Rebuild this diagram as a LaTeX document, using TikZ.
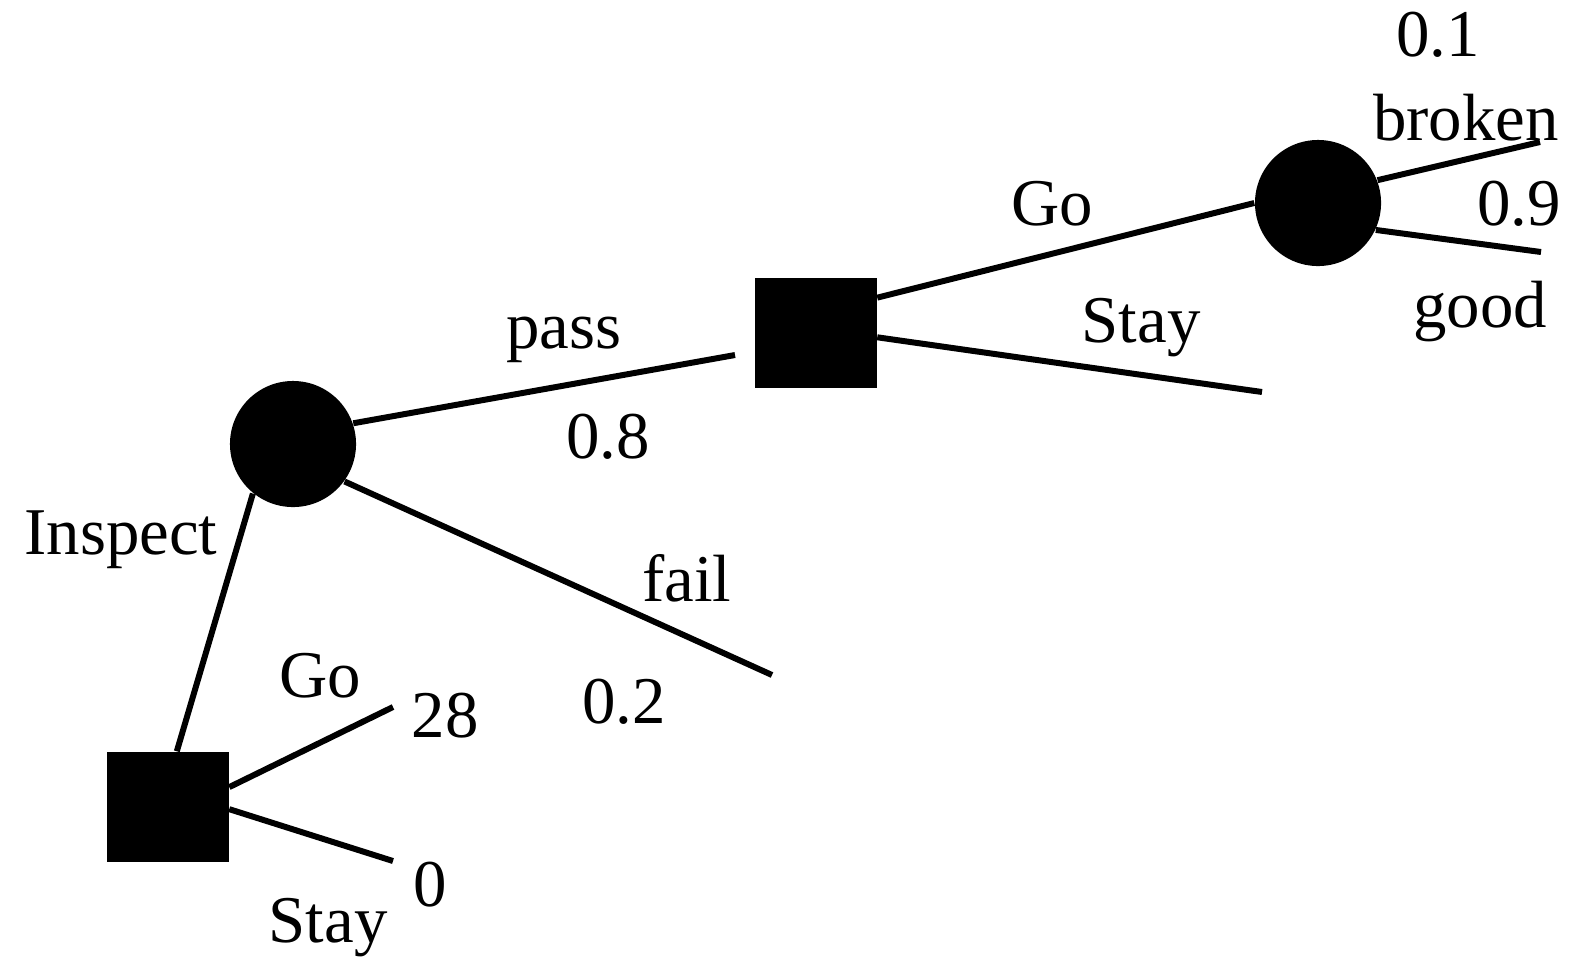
\documentclass[tikz,border=0pt]{standalone}
\usepackage{fontspec}
\setmainfont{Liberation Serif}
\begin{document}
\begin{tikzpicture}[x=0.01cm,y=-0.01cm,
  decision/.style={fill=black,draw=none,minimum width=1.21cm,minimum height=1.10cm,inner sep=0pt},
  chance/.style={circle,fill=black,draw=none,minimum size=1.26cm,inner sep=0pt},
  branch/.style={line width=1.7pt},
  lbl/.style={font=\fontsize{19}{22}\selectfont,inner sep=0pt}]
\useasboundingbox (0,0) rectangle (1577,960);

% nodes of the tree
\node[decision] (sq1) at (168,807) {};
\node[chance]   (c1)  at (293,444) {};
\node[decision] (sq2) at (816,333) {};
\node[chance]   (c2)  at (1318,203) {};

% free ends of the leaf branches
\coordinate (passend)   at (735,355);
\coordinate (failend)   at (772,675);
\coordinate (stayend)   at (1262,392);
\coordinate (brokenend) at (1540,142);
\coordinate (goodend)   at (1541,252);
\coordinate (goend)     at (393,707);
\coordinate (stayend1)  at (393,861);

% branches
\draw[branch] (sq1.81.7) -- (c1.231.5);
\draw[branch] (c1.19.6) -- (passend);
\draw[branch] (c1.-36) -- (failend);
\draw[branch] (sq2.30.3) -- (c2.180);
\draw[branch] (sq2.-4.8) -- (stayend);
\draw[branch] (c2.21.1) -- (brokenend);
\draw[branch] (c2.-25.3) -- (goodend);
\draw[branch] (sq1.18.4) -- (goend);
\draw[branch] (sq1.-2.9) -- (stayend1);

% labels
\node[lbl] (l01)     at (1438,35)  {0.1};
\node[lbl] (lbroken) at (1466,118) {broken};
\node[lbl] (l09)     at (1519,204) {0.9};
\node[lbl] (lgood)   at (1480,312) {good};
\node[lbl] (lgo2)    at (1052,204) {Go};
\node[lbl] (lstay2)  at (1141,328) {Stay};
\node[lbl] (lpass)   at (564,340)  {pass};
\node[lbl] (l08)     at (608,437)  {0.8};
\node[lbl] (linsp)   at (121,540)  {Inspect};
\node[lbl] (lfail)   at (687,578)  {fail};
\node[lbl] (lgo1)    at (320,676)  {Go};
\node[lbl] (l28)     at (445,716)  {28};
\node[lbl] (l02)     at (624,702)  {0.2};
\node[lbl] (l0)      at (430,885)  {0};
\node[lbl] (lstay1)  at (328,928)  {Stay};
\end{tikzpicture}
\end{document}
